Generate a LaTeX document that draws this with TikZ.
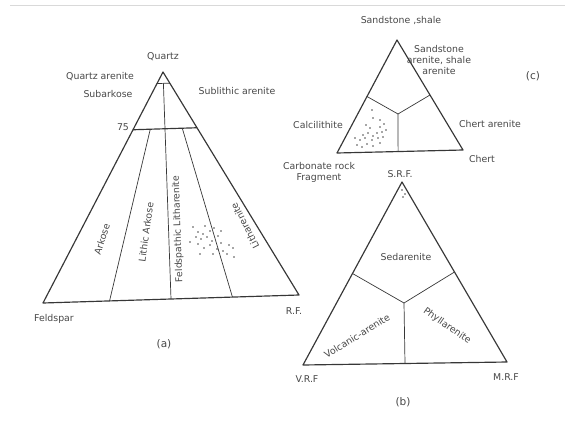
\documentclass[tikz,border=0pt]{standalone}
\usepackage{fontspec}
\setmainfont{DejaVu Sans}
\usepackage{tikz}
\usetikzlibrary{calc}
\definecolor{inkgray}{RGB}{55,55,55}

\begin{document}
\begin{tikzpicture}[
        x=0.03cm, y=-0.03cm,
        tri/.style = {draw=inkgray, line width=1pt, line join=round},
        divider/.style = {draw=inkgray, line width=0.6pt},
        lbl/.style = {font=\fontsize{8}{9.5}\selectfont, text=black!72, inner sep=1pt, align=center},
        plot/.style = {fill=black!70}
    ]
        \useasboundingbox (0,0) rectangle (565,422);
        \draw[black!15, line width=0.8pt] (10,5) -- (565,5);

        % Triangle (a): Quartz - Feldspar - Rock fragments
        \coordinate (qtz) at (163,72);
        \coordinate (fel) at (43,303);
        \coordinate (rf) at (299,295);
        \coordinate (q95l) at ($(qtz)!0.05!(fel)$);
        \coordinate (q95r) at ($(qtz)!0.05!(rf)$);
        \coordinate (q75l) at ($(qtz)!0.25!(fel)$);
        \coordinate (q75r) at ($(qtz)!0.25!(rf)$);
        \coordinate (ark1) at ($(q75l)!0.27!(q75r)$);
        \coordinate (ark2) at ($(fel)!0.26!(rf)$);
        \coordinate (mid1) at ($(q95l)!0.5!(q95r)$);
        \coordinate (mid2) at ($(fel)!0.5!(rf)$);
        \coordinate (lit1) at ($(q75l)!0.77!(q75r)$);
        \coordinate (lit2) at ($(fel)!0.74!(rf)$);

        \draw[tri] (qtz) -- (fel) -- (rf) -- cycle;
        \draw[divider] (q95l) -- (q95r);
        \draw[tri] (q75l) -- (q75r);
        \draw[divider] (ark1) -- (ark2);
        \draw[divider] (mid1) -- (mid2);
        \draw[divider] (lit1) -- (lit2);

        \node (quartz) [lbl] at (163,57) {Quartz};
        \node (qarenite) [lbl] at (100,77) {Quartz arenite};
        \node (subark) [lbl] at (108,94) {Subarkose};
        \node (sublith) [lbl] at (237,91) {Sublithic arenite};
        \node (seventyfive) [lbl] at (123,127) {75};
        \node (arkose) [lbl, rotate=72] at (102,239) {Arkose};
        \node (lithark) [lbl, rotate=82] at (146,232) {Lithic Arkose};
        \node (feldlith) [lbl, rotate=92] at (178,229) {Feldspathic Litharenite};
        \node (litharen) [lbl, rotate=117] at (245,226) {Litharenite};
        \node (feldspar) [lbl] at (54,319) {Feldspar};
        \node (rflabel) [lbl] at (294,311) {R.F.};
        \node (capa) [lbl, font=\fontsize{9}{10}\selectfont] at (164,344) {(a)};

        \foreach \px/\py in {193/227, 205/226, 198/232, 203/234, 210/231, 214/228, 196/237,
                             201/239, 207/237, 212/241, 218/236, 221/231, 198/244, 204/248,
                             210/245, 217/249, 223/251, 227/254, 233/248, 234/257, 200/254,
                             221/243, 213/254, 190/242, 229/245}
            \fill[plot] (\px,\py) circle (0.65pt);

        % Triangle (c): Sedimentary rock fragments
        \coordinate (c1) at (397,40);
        \coordinate (c2) at (337,153);
        \coordinate (c3) at (463,150);
        \coordinate (cl) at ($(c1)!0.5!(c2)$);
        \coordinate (cr) at ($(c1)!0.5!(c3)$);
        \coordinate (cj) at (398,114);
        \coordinate (cb) at ($(c2)!0.485!(c3)$);

        \draw[tri] (c1) -- (c2) -- (c3) -- cycle;
        \draw[divider] (cl) -- (cj) -- (cr);
        \draw[divider] (cj) -- (cb);

        \node (sandshale) [lbl] at (401,20) {Sandstone ,shale};
        \node (sandaren) [lbl] at (439,60) {Sandstone\\arenite, shale\\arenite};
        \node (capc) [lbl, font=\fontsize{9}{10}\selectfont] at (533,76) {(c)};
        \node (calcilith) [lbl] at (318,125) {Calcilithite};
        \node (chertaren) [lbl] at (490,124) {Chert arenite};
        \node (chert) [lbl] at (482,159) {Chert};
        \node (carbrock) [lbl] at (319,172) {Carbonate rock\\Fragment};

        \foreach \px/\py in {372/110, 373/118, 380/120, 370/128, 366/125, 380/127, 384/124,
                             363/135, 368/133, 373/136, 377/133, 382/132, 386/130, 355/138,
                             360/140, 365/138, 372/140, 378/138, 383/137, 357/145, 362/147,
                             367/144, 373/146, 380/143}
            \fill[plot] (\px,\py) circle (0.65pt);

        % Triangle (b): S.R.F. - V.R.F. - M.R.F.
        \coordinate (b1) at (402,182);
        \coordinate (b2) at (303,365);
        \coordinate (b3) at (507,362);
        \coordinate (bl) at ($(b1)!0.5!(b2)$);
        \coordinate (br) at ($(b1)!0.5!(b3)$);
        \coordinate (bj) at (404,303);
        \coordinate (bb) at ($(b2)!0.5!(b3)$);

        \draw[tri] (b1) -- (b2) -- (b3) -- cycle;
        \draw[divider] (bl) -- (bj) -- (br);
        \draw[divider] (bj) -- (bb);

        \node (srf) [lbl] at (400,174) {S.R.F.};
        \node (sedaren) [lbl] at (406,257) {Sedarenite};
        \node (volcaren) [lbl, rotate=32] at (357,336) {Volcanic-arenite};
        \node (phyllaren) [lbl, rotate=-35] at (447,326) {Phyllarenite};
        \node (vrf) [lbl] at (307,379) {V.R.F};
        \node (mrf) [lbl] at (506,377) {M.R.F};
        \node (capb) [lbl, font=\fontsize{9}{10}\selectfont] at (403,402) {(b)};

        \foreach \px/\py in {402/190, 405/194, 403/197}
            \fill[plot] (\px,\py) circle (0.65pt);

    \end{tikzpicture}
\end{document}
